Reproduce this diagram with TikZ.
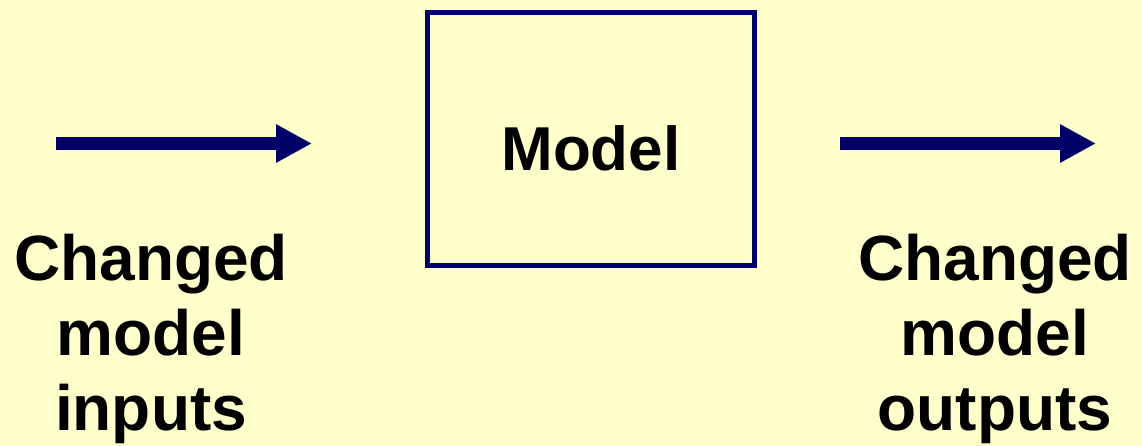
\documentclass[tikz,border=0pt]{standalone}
\usepackage{fontspec}
\setmainfont{Liberation Sans}
\usetikzlibrary{arrows.meta}
\definecolor{bg}{HTML}{FFFFCC}
\definecolor{navy}{HTML}{000066}
\begin{document}
\begin{tikzpicture}[x=1pt,y=-1pt,
  flowarrow/.style={draw=navy,line width=13pt,-{Triangle[length=36pt,width=36pt]}},
  boxnode/.style={draw=navy,line width=5pt,minimum width=327pt,minimum height=253pt,inner sep=0pt,text height=64pt,text depth=0pt,font=\fontsize{62}{75}\selectfont\bfseries},
  label/.style={align=center,inner sep=0pt,font=\fontsize{64}{75}\selectfont\bfseries}]
\fill[bg] (0,0) rectangle (1142,446);
\useasboundingbox (0,0) rectangle (1142,446);
\node[boxnode] (model) at (591,139) {Model};
\coordinate (ins) at (56,143.5);
\coordinate (ine) at (312,143.5);
\coordinate (outs) at (840,143.5);
\coordinate (oute) at (1096,143.5);
\draw[flowarrow] (ins) -- (ine);
\draw[flowarrow] (outs) -- (oute);
\node[label] (inlab) at (151,339) {Changed\\model\\inputs};
\node[label] (outlab) at (995,339) {Changed\\model\\outputs};
\end{tikzpicture}
\end{document}
